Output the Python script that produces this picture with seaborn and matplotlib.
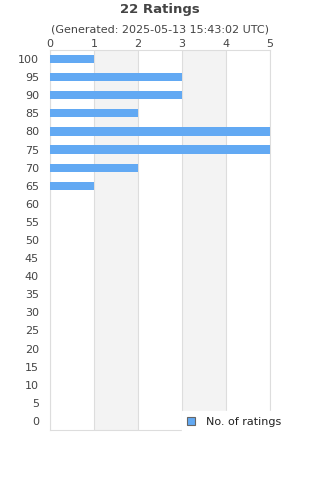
import matplotlib
matplotlib.use("Agg")
import matplotlib.pyplot as plt
import seaborn as sns
import pandas as pd

# --- data ---
ratings = ['100', '95', '90', '85', '80', '75', '70', '65', '60', '55', '50',
           '45', '40', '35', '30', '25', '20', '15', '10', '5', '0']
counts = [1, 3, 3, 2, 5, 5, 2, 1, 0, 0, 0, 0, 0, 0, 0, 0, 0, 0, 0, 0, 0]
x_ticks = [0, 1, 2, 3, 4, 5]
series_name = 'No. of ratings'
title = '22 Ratings'
subtitle = '(Generated: 2025-05-13 15:43:02 UTC)'

df = pd.DataFrame({'rating': ratings, 'count': counts})

sns.set_style('white')
plt.rcParams['font.family'] = ['DejaVu Sans']

fig = plt.figure(figsize=(3.2, 4.8), dpi=100, facecolor='white')
ax = fig.add_axes([50 / 320, 50 / 480, 220 / 320, 380 / 480])

# alternating grey bands
for lo in (1, 3):
    ax.axvspan(lo, lo + 1, color='#f3f3f3', zorder=0, lw=0)

sns.barplot(data=df, x='count', y='rating', order=ratings, orient='h',
            color='#62a9f3', saturation=1, width=0.45, label=series_name,
            linewidth=0, edgecolor='none', ax=ax, zorder=3)

ax.set_xlim(0, 5)
ax.set_ylim(len(ratings) - 0.5, -0.5)
ax.set_xticks(x_ticks)
ax.xaxis.tick_top()
ax.tick_params(axis='both', length=0, labelsize=8, labelcolor='#444444')
ax.tick_params(axis='x', pad=1)
ax.tick_params(axis='y', pad=8)
ax.set_xlabel('')
ax.set_ylabel('')
ax.grid(axis='x', color='#dddddd', lw=0.8, zorder=1)
ax.set_axisbelow(True)
for sp in ax.spines.values():
    sp.set_color('#dddddd')
    sp.set_linewidth(0.8)

fig.text(0.5, 1 - 10 / 480, title, ha='center', va='center',
         fontsize=9.5, fontweight='bold', color='#444444')
fig.text(0.5, 1 - 30 / 480, subtitle, ha='center', va='center',
         fontsize=8, color='#444444')

leg = ax.legend(loc='center left', bbox_to_anchor=(176 / 320, 1 - 422 / 480),
                bbox_transform=fig.transFigure, frameon=True, fancybox=False,
                fontsize=8, handlelength=0.7, handleheight=0.7,
                handletextpad=1.0, borderpad=0.5, labelcolor='#222222')
leg.get_frame().set_facecolor('white')
leg.get_frame().set_edgecolor('white')
leg.get_frame().set_alpha(1)
leg.set_zorder(10)
for h in leg.legend_handles:
    h.set_edgecolor('#666666')
    h.set_linewidth(0.8)

fig.savefig('out.png', dpi=100)
plt.close(fig)
